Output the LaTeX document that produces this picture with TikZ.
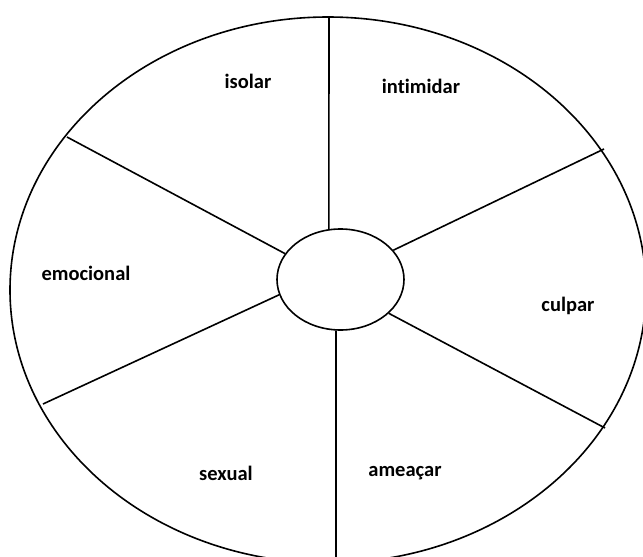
\documentclass[tikz,border=0pt]{standalone}
\usepackage{fontspec}
\setsansfont{Carlito}[Ligatures=NoCommon]
\usetikzlibrary{shapes.geometric, positioning}
\tikzset{
  rim/.style={draw=black, line width=1.6pt},
  hubnode/.style={ellipse, draw=black, line width=1.6pt, fill=white,
                  minimum width=127pt, minimum height=101pt, inner sep=0pt},
  spoke/.style={draw=black, line width=1.6pt},
  sector/.style={font=\sffamily\bfseries\fontsize{20.5}{22}\selectfont, inner sep=0pt},
}
\begin{document}
\begin{tikzpicture}[x=1pt, y=-1pt]
  \useasboundingbox (0,0) rectangle (643,557);
  \clip (0,0) rectangle (643,557);
  % outer wheel
  \draw[rim] (328,290) ellipse [x radius=318pt, y radius=273pt];
  % points on the rim
  \coordinate (rimN)  at (329,16);
  \coordinate (rimNE) at (604,149);
  \coordinate (rimSE) at (605,428);
  \coordinate (rimS)  at (336,560);
  \coordinate (rimSW) at (43,404);
  \coordinate (rimNW) at (67,137);
  % centre
  \node[hubnode] (hub) at (340.5,279.5) {};
  % spokes
  \foreach \ang/\pt in {103/rimN, 29/rimNE, 325/rimSE, 265/rimS, 194/rimSW, 155/rimNW}{
    \draw[spoke] (hub.\ang) -- (\pt);
  }
  % labels
  \node[sector] (isolar)    at (248,81)  {isolar};
  \node[sector] (intimidar) at (421,86)  {intimidar};
  \node[sector] (emocional) at (86,273)  {emocional};
  \node[sector] (culpar)    at (568,306) {culpar};
  \node[sector] (sexual)    at (226,473) {sexual};
  \node[sector] (ameacar)   at (405,473) {ameaçar};
\end{tikzpicture}
\end{document}
